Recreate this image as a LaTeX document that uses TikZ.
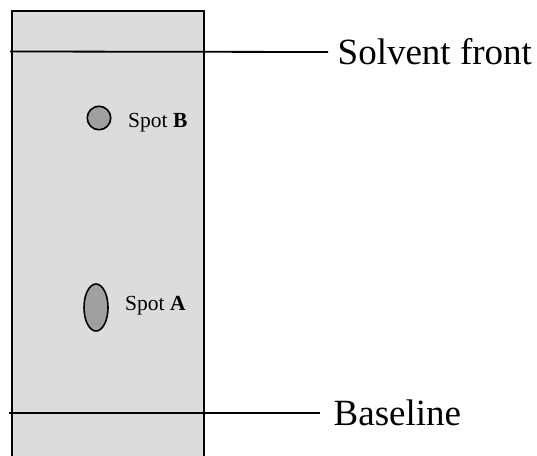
\documentclass[tikz,border=0pt]{standalone}
\usepackage{fontspec}
\setmainfont{Liberation Serif}
\usetikzlibrary{shapes.geometric}
\begin{document}
\begin{tikzpicture}[x=1pt,y=-1pt,
  plate/.style={draw=black,line width=2pt,fill=plategray},
  mark line/.style={draw=black,line width=1.8pt},
  spot/.style={draw=black,line width=1.6pt,fill=spotgray},
  bigtext/.style={font=\fontsize{37}{41}\selectfont,anchor=west,inner sep=0pt},
  smalltext/.style={font=\fontsize{21.5}{25}\selectfont,anchor=base west,inner sep=0pt}]
\definecolor{plategray}{HTML}{DCDCDC}
\definecolor{spotgray}{HTML}{A0A0A0}
\useasboundingbox (0,0) rectangle (537,455);
\path[plate] (11.5,460) -- (11.5,10.5) -- (204,10.5) -- (204,460);
\coordinate (sfL) at (10,51.5);
\coordinate (blL) at (9,413);
\node[bigtext] (sf) at (337.5,52) {Solvent front};
\node[bigtext] (bl) at (333.5,413) {Baseline};
\draw[mark line] (sfL) -- (sf.west -| 328,0);
\draw[mark line] (blL) -- (bl.west -| 320,0);
\node[spot,circle,minimum size=23.5pt,inner sep=0pt] (spotB) at (99,118) {};
\node[spot,ellipse,minimum width=24pt,minimum height=47pt,inner sep=0pt] (spotA) at (96,307.5) {};
\node[smalltext] (labB) at (128,127.5) {Spot \textbf{B}};
\node[smalltext] (labA) at (125,310.5) {Spot \textbf{A}};
\end{tikzpicture}
\end{document}
